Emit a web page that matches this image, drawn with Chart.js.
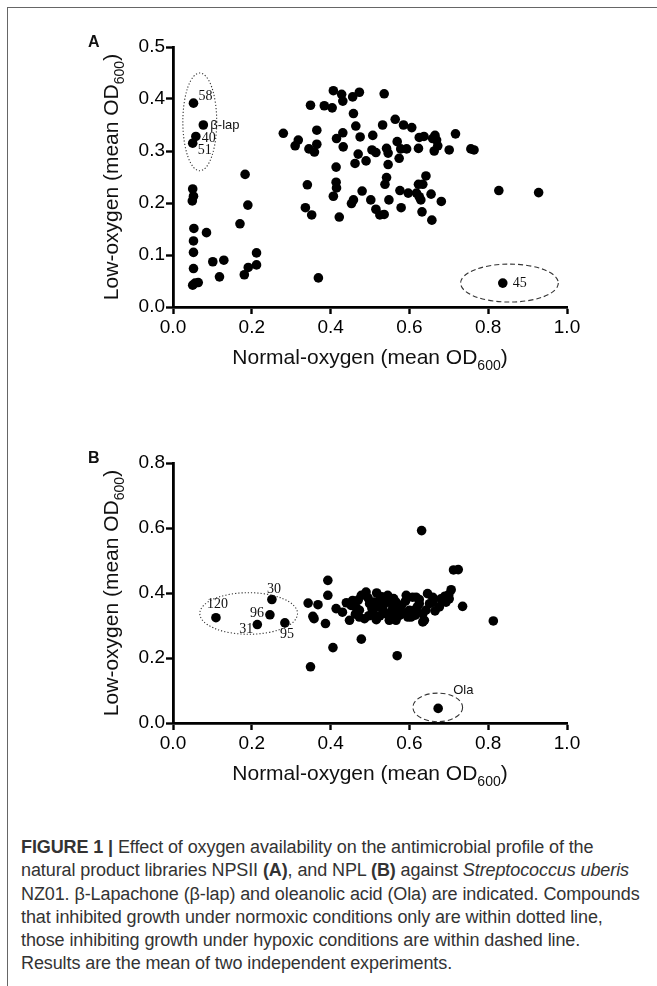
<!DOCTYPE html>
<html>
<head>
<meta charset="utf-8">
<script src="https://cdn.jsdelivr.net/npm/chart.js@4.4.1/dist/chart.umd.min.js"></script>
<style>
  html, body { margin: 0; padding: 0; background: #fff; }
  body { width: 657px; height: 986px; position: relative; overflow: hidden; }
  .frame { position: absolute; left: 7px; top: 7px; right: -10px; bottom: -10px;
           border-left: 1.5px solid #666; border-top: 1.5px solid #666; }
  .panel { position: absolute; left: 0; width: 657px; height: 400px; }
  #panelA { top: 0; }
  #panelB { top: 416px; }
  .tag { position: absolute; left: 88px; font: bold 16px "Liberation Sans", Arial, sans-serif; color: #111; }
  .caption { position: absolute; left: 21px; top: 836px; font: 18px "Liberation Sans", Arial, sans-serif;
             color: #333; line-height: 23.3px; white-space: nowrap; letter-spacing: -0.1px; }
</style>
</head>
<body>
<div class="frame"></div>
<div class="panel" id="panelA"><canvas id="chartA" width="657" height="400"></canvas></div>
<div class="panel" id="panelB"><canvas id="chartB" width="657" height="400"></canvas></div>
<div class="tag" style="top:33px">A</div>
<div class="tag" style="top:449px">B</div>
<div class="caption">
  <div><b>FIGURE 1 |</b> Effect of oxygen availability on the antimicrobial profile of the</div>
  <div>natural product libraries NPSII <b>(A)</b>, and NPL <b>(B)</b> against <i>Streptococcus uberis</i></div>
  <div>NZ01. β-Lapachone (β-lap) and oleanolic acid (Ola) are indicated. Compounds</div>
  <div>that inhibited growth under normoxic conditions only are within dotted line,</div>
  <div>those inhibiting growth under hypoxic conditions are within dashed line.</div>
  <div>Results are the mean of two independent experiments.</div>
</div>
<script>
// Panel A: NPSII library, mean OD600 under normal vs low oxygen
const normalA = [
  0.052, 0.077, 0.058, 0.050, 0.050, 0.052, 0.049, 0.053, 0.052, 0.052, 0.052, 0.050, 0.056, 0.064,
  0.085, 0.101, 0.129, 0.118, 0.183, 0.190, 0.170, 0.212, 0.191, 0.181, 0.212, 0.369, 0.837,
  0.407, 0.428, 0.431, 0.456, 0.473, 0.536, 0.349, 0.384, 0.404, 0.458, 0.280, 0.318, 0.310, 0.365,
  0.345, 0.365, 0.359, 0.415, 0.431, 0.432, 0.464, 0.475, 0.507, 0.532, 0.564, 0.585, 0.505, 0.515,
  0.470, 0.490, 0.462, 0.542, 0.546, 0.569, 0.578, 0.593, 0.546, 0.574, 0.414, 0.341, 0.414, 0.415,
  0.407, 0.480, 0.542, 0.538, 0.576, 0.458, 0.453, 0.502, 0.548, 0.336, 0.352, 0.422, 0.515, 0.525,
  0.536, 0.579,
  0.606, 0.625, 0.637, 0.659, 0.665, 0.669, 0.672, 0.663, 0.623, 0.717, 0.701, 0.756, 0.764, 0.642,
  0.623, 0.634, 0.597, 0.618, 0.625, 0.629, 0.655, 0.681, 0.632, 0.657, 0.827, 0.928
];
const lowA = [
  0.392, 0.350, 0.328, 0.315, 0.227, 0.213, 0.204, 0.151, 0.127, 0.105, 0.074, 0.042, 0.046, 0.047,
  0.143, 0.087, 0.090, 0.058, 0.255, 0.196, 0.160, 0.104, 0.076, 0.062, 0.081, 0.056, 0.046,
  0.416, 0.409, 0.396, 0.404, 0.413, 0.410, 0.388, 0.387, 0.383, 0.372, 0.334, 0.321, 0.310, 0.340,
  0.304, 0.313, 0.298, 0.324, 0.335, 0.308, 0.348, 0.327, 0.330, 0.350, 0.361, 0.350, 0.302, 0.297,
  0.294, 0.281, 0.276, 0.305, 0.296, 0.318, 0.304, 0.304, 0.274, 0.286, 0.269, 0.235, 0.240, 0.229,
  0.213, 0.223, 0.249, 0.236, 0.224, 0.206, 0.199, 0.206, 0.206, 0.191, 0.177, 0.173, 0.188, 0.177,
  0.178, 0.191,
  0.345, 0.326, 0.328, 0.324, 0.330, 0.321, 0.310, 0.300, 0.305, 0.333, 0.302, 0.304, 0.302, 0.252,
  0.236, 0.236, 0.219, 0.219, 0.212, 0.206, 0.217, 0.203, 0.183, 0.167, 0.224, 0.220
];

// Panel B: NPL library
const normalB = [
  0.109, 0.246, 0.251, 0.214, 0.284, 0.343, 0.368, 0.355, 0.358, 0.387, 0.349, 0.393, 0.393,
  0.414, 0.430, 0.448, 0.478, 0.406, 0.569, 0.631, 0.712, 0.724, 0.706, 0.735, 0.813, 0.673,
  0.478, 0.490, 0.517, 0.545, 0.592, 0.608, 0.456, 0.452, 0.473, 0.499, 0.524, 0.532, 0.558,
  0.575, 0.600, 0.473, 0.486, 0.516, 0.549, 0.566, 0.596, 0.507, 0.541, 0.575, 0.520, 0.549,
  0.566, 0.617, 0.646, 0.659, 0.680, 0.693, 0.701, 0.625, 0.651, 0.676, 0.613, 0.642, 0.634,
  0.604, 0.638, 0.634, 0.465, 0.495, 0.510, 0.530, 0.560, 0.580, 0.590, 0.505, 0.535, 0.555,
  0.585, 0.620, 0.660, 0.690, 0.463, 0.525, 0.560, 0.615, 0.665, 0.700, 0.497, 0.545, 0.440,
  0.470, 0.625
];
const lowB = [
  0.324, 0.333, 0.380, 0.303, 0.308, 0.369, 0.364, 0.328, 0.321, 0.306, 0.173, 0.439, 0.393,
  0.352, 0.341, 0.316, 0.258, 0.232, 0.207, 0.592, 0.471, 0.472, 0.410, 0.359, 0.314, 0.045,
  0.393, 0.403, 0.400, 0.393, 0.393, 0.387, 0.377, 0.362, 0.347, 0.367, 0.377, 0.352, 0.357,
  0.347, 0.347, 0.326, 0.321, 0.318, 0.316, 0.316, 0.326, 0.341, 0.336, 0.331, 0.357, 0.372,
  0.372, 0.387, 0.398, 0.387, 0.382, 0.372, 0.382, 0.367, 0.367, 0.357, 0.347, 0.347, 0.336,
  0.326, 0.316, 0.311, 0.355, 0.385, 0.372, 0.388, 0.383, 0.362, 0.375, 0.352, 0.365, 0.345,
  0.338, 0.357, 0.372, 0.390, 0.335, 0.330, 0.328, 0.332, 0.345, 0.395, 0.330, 0.382, 0.370,
  0.378, 0.380
];

// labelled compounds: index into the series, text, pixel offset, alignment, serif or not
const notesA = [
  { i: 0, text: "58", dx: 5, dy: -7, align: "left", serif: true },
  { i: 1, text: "β-lap", dx: 7, dy: 0, align: "left", serif: false },
  { i: 2, text: "40", dx: 6, dy: 1.5, align: "left", serif: true },
  { i: 3, text: "51", dx: 5, dy: 7, align: "left", serif: true },
  { i: 26, text: "45", dx: 10, dy: 0, align: "left", serif: true }
];
const notesB = [
  { i: 0, text: "120", dx: 1.5, dy: -13, align: "center", serif: true },
  { i: 1, text: "96", dx: -6, dy: -1, align: "right", serif: true },
  { i: 2, text: "30", dx: 2, dy: -10.5, align: "center", serif: true },
  { i: 3, text: "31", dx: -4, dy: 5, align: "right", serif: true },
  { i: 4, text: "95", dx: 2, dy: 11, align: "center", serif: true },
  { i: 25, text: "Ola", dx: 15, dy: -17.5, align: "left", serif: false }
];

// groups circled in the figure (centre and half widths in axis units)
const ringsA = [
  { x: 0.068, y: 0.356, rx: 0.043, ry: 0.094, dash: [1.2, 2] },
  { x: 0.854, y: 0.046, rx: 0.124, ry: 0.0365, dash: [5, 3] }
];
const ringsB = [
  { x: 0.192, y: 0.337, rx: 0.124, ry: 0.064, dash: [1.2, 2] },
  { x: 0.672, y: 0.048, rx: 0.063, ry: 0.044, dash: [5, 3] }
];

const SANS = '"Liberation Sans", Arial, sans-serif';
const SERIF = '"Liberation Serif", "Times New Roman", serif';

function drawSubTitle(ctx, x, y, rotate) {
  const main = rotate ? "Low-oxygen (mean OD" : "Normal-oxygen (mean OD";
  ctx.save();
  ctx.fillStyle = "#111";
  ctx.textBaseline = "alphabetic";
  ctx.textAlign = "left";
  ctx.font = "21px " + SANS;
  const w1 = ctx.measureText(main).width;
  ctx.font = "14px " + SANS;
  const w2 = ctx.measureText("600").width;
  ctx.font = "21px " + SANS;
  const w3 = ctx.measureText(")").width;
  const total = w1 + w2 + w3;
  ctx.translate(x, y);
  if (rotate) ctx.rotate(-Math.PI / 2);
  let px = -total / 2;
  ctx.fillText(main, px, 0);
  px += w1;
  ctx.font = "14px " + SANS;
  ctx.fillText("600", px, 6);
  px += w2;
  ctx.font = "21px " + SANS;
  ctx.fillText(")", px, 0);
  ctx.restore();
}

const notesPlugin = {
  id: "notes",
  afterDatasetsDraw(chart, args, opts) {
    const ctx = chart.ctx;
    const xs = chart.scales.x, ys = chart.scales.y;
    const area = chart.chartArea;
    ctx.save();
    ctx.strokeStyle = "#333";
    ctx.lineWidth = 1.1;
    opts.rings.forEach(r => {
      const cx = xs.getPixelForValue(r.x), cy = ys.getPixelForValue(r.y);
      const rx = Math.abs(xs.getPixelForValue(r.x + r.rx) - cx);
      const ry = Math.abs(ys.getPixelForValue(r.y + r.ry) - cy);
      ctx.setLineDash(r.dash);
      ctx.beginPath();
      ctx.ellipse(cx, cy, rx, ry, 0, 0, Math.PI * 2);
      ctx.stroke();
    });
    ctx.setLineDash([]);
    ctx.fillStyle = "#111";
    ctx.textBaseline = "middle";
    const pts = chart.getDatasetMeta(0).data;
    opts.notes.forEach(n => {
      const p = pts[n.i];
      ctx.font = n.serif ? "14px " + SERIF : "13px " + SANS;
      ctx.textAlign = n.align;
      ctx.fillText(n.text, p.x + n.dx, p.y + n.dy);
    });
    ctx.restore();
    // axis titles with subscript
    drawSubTitle(chart.ctx, (area.left + area.right) / 2, area.bottom + 57, false);
    drawSubTitle(chart.ctx, 117.5, (area.top + area.bottom) / 2, true);
  }
};

function makeChart(id, xs, ys, yMax, yStep, rings, notes) {
  const points = xs.map((x, k) => ({ x: x, y: ys[k] }));
  const tickFont = { family: SANS, size: 19 };
  return new Chart(document.getElementById(id), {
    type: "scatter",
    data: {
      datasets: [{
        data: points,
        pointRadius: 4.8,
        pointHoverRadius: 4.8,
        backgroundColor: "#000",
        borderWidth: 0,
        clip: false
      }]
    },
    options: {
      responsive: false,
      animation: false,
      layout: { padding: { left: 0, right: 90, top: 47, bottom: 0 } },
      plugins: {
        legend: { display: false },
        tooltip: { enabled: false },
        notes: { rings: rings, notes: notes }
      },
      scales: {
        x: {
          type: "linear",
          min: 0, max: 1,
          afterFit: s => { s.height = 93; },
          ticks: { stepSize: 0.2, autoSkip: false, maxRotation: 0, padding: 2,
                   font: tickFont, color: "#000", callback: v => v.toFixed(1) },
          grid: { drawOnChartArea: false, drawTicks: true, tickLength: 7,
                  tickWidth: 2.4, tickColor: "#000", color: "#000" },
          border: { display: true, color: "#000", width: 2.8 }
        },
        y: {
          type: "linear",
          min: 0, max: yMax,
          afterFit: s => { s.width = 173; },
          ticks: { stepSize: yStep, autoSkip: false, padding: 1,
                   font: tickFont, color: "#000", callback: v => v.toFixed(1) },
          grid: { drawOnChartArea: false, drawTicks: true, tickLength: 7,
                  tickWidth: 2.4, tickColor: "#000", color: "#000" },
          border: { display: true, color: "#000", width: 2.8 }
        }
      }
    },
    plugins: [notesPlugin]
  });
}

makeChart("chartA", normalA, lowA, 0.5, 0.1, ringsA, notesA);
makeChart("chartB", normalB, lowB, 0.8, 0.2, ringsB, notesB);
</script>
</body>
</html>
